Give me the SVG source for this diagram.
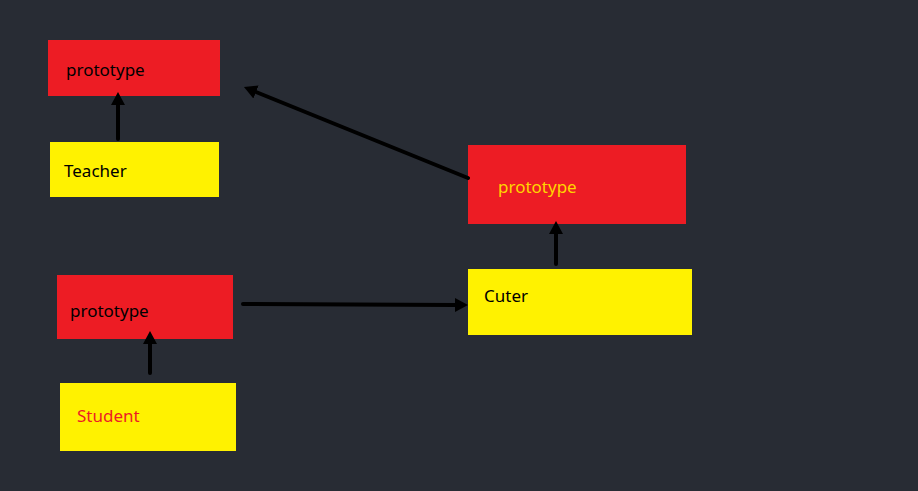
<svg xmlns="http://www.w3.org/2000/svg" width="918" height="491" viewBox="0 0 918 491">
<style>
.red{fill:#ED1C24}
.yel{fill:#FFF200}
text{font-family:"Noto Sans","Open Sans","DejaVu Sans",sans-serif;font-size:17px}
.blk{fill:#000}
.ytx{fill:#FFD500}
.rtx{fill:#ED1C24}
.conn line{stroke:#000;stroke-width:4;stroke-linecap:round;marker-end:url(#ah)}
</style>
<defs>
<marker id="ah" markerUnits="userSpaceOnUse" markerWidth="14" markerHeight="16" viewBox="0 -8 14 16" refX="0" refY="0" orient="auto">
<path d="M0,-7 L13,0 L0,7 z" fill="#000"/>
</marker>
</defs>
<rect width="918" height="491" fill="#282C34"/>
<g id="proto1"><rect class="red" x="48" y="40" width="172" height="56"/><text class="blk" x="66" y="76">prototype</text></g>
<g id="teacher"><rect class="yel" x="50" y="142" width="169" height="55"/><text class="blk" x="64" y="177">Teacher</text></g>
<g id="proto2"><rect class="red" x="468" y="145" width="218" height="79"/><text class="ytx" x="498" y="193">prototype</text></g>
<g id="cuter"><rect class="yel" x="468" y="269" width="224" height="66"/><text class="blk" x="484" y="302">Cuter</text></g>
<g id="proto3"><rect class="red" x="57" y="275" width="176" height="64"/><text class="blk" x="70" y="317">prototype</text></g>
<g id="student"><rect class="yel" x="60" y="383" width="176" height="68"/><text class="rtx" x="77" y="422">Student</text></g>
<g id="connectors" class="conn">
<line x1="118" y1="139" x2="118" y2="105"/>
<line x1="556" y1="264" x2="556" y2="234"/>
<line x1="150" y1="373" x2="150" y2="344"/>
<line x1="243" y1="304" x2="455" y2="305"/>
<line x1="468" y1="178" x2="256" y2="92"/>
</g>
</svg>
